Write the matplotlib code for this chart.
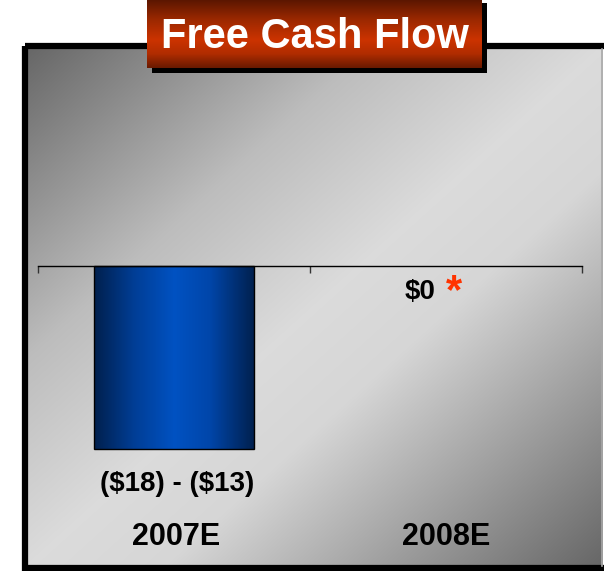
import numpy as np
import matplotlib
matplotlib.use("Agg")
import matplotlib.pyplot as plt
from matplotlib.patches import Rectangle
from matplotlib.colors import LinearSegmentedColormap

# chart data ($ millions, 2007E shown as a range, bar drawn at its midpoint)
categories = ["2007E", "2008E"]
values = [-15.5, 0.0]
value_labels = ["($18) - ($13)", "$0"]
title = "Free Cash Flow"

W, H = 604, 571
plt.rcParams['font.family'] = ['Liberation Sans', 'DejaVu Sans']

fig = plt.figure(figsize=(W / 100, H / 100), dpi=100)
fig.patch.set_facecolor("white")

# background layer in pixel coordinates
bg = fig.add_axes([0, 0, 1, 1])
bg.set_xlim(0, W)
bg.set_ylim(H, 0)
bg.axis("off")

# grey diagonal gradient panel
x0, y0, x1, y1 = 25, 46, 603, 568
nx, ny = 300, 260
xx, yy = np.meshgrid(np.linspace(0, 1, nx), np.linspace(0, 1, ny))
t = (xx + yy) / 2
grey = np.interp(t, [0, 0.3, 0.5, 0.62, 1.0], [0.40, 0.74, 0.86, 0.84, 0.40])
bg.imshow(np.dstack([grey, grey, grey]), extent=[x0, x1, y1, y0],
          aspect="auto", interpolation="bilinear", zorder=1)
bg.add_patch(Rectangle((x0, y0), 620 - x0, y1 - y0, fill=False,
                       edgecolor="black", linewidth=4.5, zorder=2))
bg.plot([602, 602], [y0 + 3, y1 - 2], color="#a8a8a8", lw=1.2, zorder=3)

# title box with shadow and red gradient
tx0, tx1, ty0, ty1 = 147, 482, -2, 68
bg.add_patch(Rectangle((tx0 + 5, ty0 + 5), tx1 - tx0, ty1 - ty0,
                       facecolor="black", edgecolor="none", zorder=4))
red = LinearSegmentedColormap.from_list(
    "red", [(0, "#561500"), (0.3, "#9a2800"), (0.6, "#cc3300"), (0.8, "#b02c00"), (1, "#6a1a00")])
grad = np.linspace(0, 1, 100).reshape(-1, 1)
bg.imshow(grad, cmap=red, extent=[tx0, tx1, ty1, ty0], aspect="auto",
          interpolation="bilinear", zorder=5)
bg.text((tx0 + tx1) / 2, 37, title, color="white", fontsize=30,
        fontweight="bold", ha="center", va="center", zorder=6)

# chart axes: x from 38 to 582 px, y from 120 to 520 px
ax_l, ax_r, ax_t, ax_b = 38, 582, 120, 520
ax = fig.add_axes([ax_l / W, 1 - ax_b / H, (ax_r - ax_l) / W, (ax_b - ax_t) / H])
ax.patch.set_alpha(0)
zero_px = 266
bar_px = 449
scale = (bar_px - zero_px) / abs(values[0])

xpos = np.arange(len(categories))
bar_w = 0.59
blue = LinearSegmentedColormap.from_list(
    "blue", [(0, "#00204e"), (0.25, "#003e96"), (0.5, "#0052c2"), (0.72, "#0046aa"), (1, "#00204e")])
for xp, v in zip(xpos, values):
    if v == 0:
        continue
    gr = np.linspace(0, 1, 200).reshape(1, -1)
    ax.imshow(gr, cmap=blue, extent=[xp - bar_w / 2, xp + bar_w / 2, v, 0],
              aspect="auto", interpolation="bilinear", zorder=2)
    ax.add_patch(Rectangle((xp - bar_w / 2, v), bar_w, -v, fill=False,
                           edgecolor="black", linewidth=1.0, zorder=3))
ax.set_xlim(-0.5, len(categories) - 0.5)
ax.set_ylim(-(ax_b - zero_px) / scale, (zero_px - ax_t) / scale)

for s in ["top", "left", "right"]:
    ax.spines[s].set_visible(False)
ax.spines["bottom"].set_position(("data", 0))
ax.spines["bottom"].set_linewidth(1.0)
ax.spines["bottom"].set_zorder(4)
ax.set_xticks(np.arange(len(categories) + 1) - 0.5)
ax.set_xticklabels([])
ax.tick_params(axis="x", direction="out", length=5, width=1.0, color="#333333")
ax.set_yticks([])

# value labels and category labels
bg.text(177, 484, value_labels[0], fontsize=20, fontweight="bold",
        ha="center", va="center", zorder=6, parse_math=False)
bg.text(420, 292, value_labels[1], fontsize=20, fontweight="bold",
        ha="center", va="center", zorder=6, parse_math=False)
bg.text(454, 292, "*", fontsize=30, fontweight="bold", color="#ff3300",
        ha="center", va="center", zorder=6)
for xp, cat in zip([176, 446], categories):
    bg.text(xp, 537, cat, fontsize=22, fontweight="bold",
            ha="center", va="center", zorder=6)

fig.savefig("out.png", dpi=100)
